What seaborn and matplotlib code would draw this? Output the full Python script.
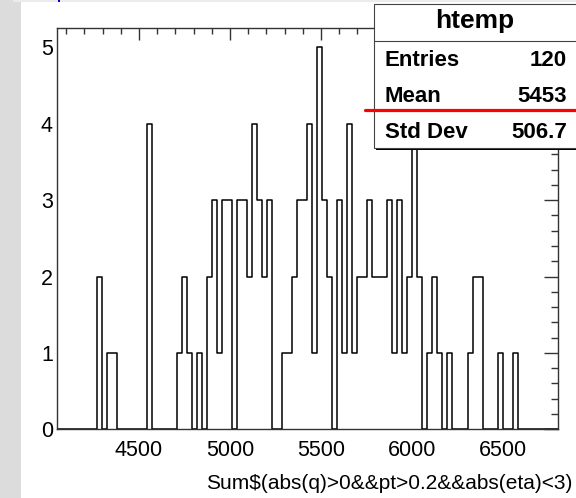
import numpy as np
import pandas as pd
import matplotlib
matplotlib.use("Agg")
import matplotlib.pyplot as plt
import seaborn as sns
from matplotlib.patches import Rectangle
from matplotlib.lines import Line2D
from matplotlib.ticker import MultipleLocator

# ---- data ----
x_min, x_max, n_bins = 4050.0, 6800.0, 100
counts = [0, 0, 0, 0, 0, 0, 0, 0, 2, 0,
          1, 1, 0, 0, 0, 0, 0, 0, 4, 0,
          0, 0, 0, 0, 1, 2, 1, 0, 1, 0,
          2, 3, 1, 3, 3, 0, 3, 3, 2, 4,
          3, 2, 3, 0, 0, 1, 1, 2, 3, 3,
          4, 1, 5, 3, 2, 0, 3, 1, 4, 1,
          2, 2, 3, 2, 2, 2, 3, 1, 3, 1,
          2, 4, 2, 0, 1, 2, 1, 0, 1, 0,
          0, 0, 1, 2, 2, 0, 0, 0, 1, 0,
          0, 1, 0, 0, 0, 0, 0, 0, 0, 0]
x_ticks = [4500, 5000, 5500, 6000, 6500]
y_ticks = [0, 1, 2, 3, 4, 5]
x_title = "Sum\\$(abs(q)>0&&pt>0.2&&abs(eta)<3)"
hist_name = "htemp"
stat_names = ["Entries", "Mean", "Std Dev"]
stat_values = ["120", "5453", "506.7"]

edges = np.linspace(x_min, x_max, n_bins + 1)
centers = 0.5 * (edges[:-1] + edges[1:])
df = pd.DataFrame({"x": centers, "w": counts})

# ---- style ----
sns.set_style("white")
plt.rcParams["font.family"] = ["Liberation Sans", "DejaVu Sans"]

W, H = 576, 498
fig = plt.figure(figsize=(W / 100, H / 100), dpi=100)
fig.patch.set_facecolor("white")

def fx(px):
    return px / W

def fy(py):
    return 1 - py / H

# canvas decorations
fig.patches.append(Rectangle((0, 0), fx(21), 1, transform=fig.transFigure,
                             facecolor="#dcdcdc", edgecolor="none", zorder=0))
fig.patches.append(Rectangle((fx(13), fy(2.5)), 1, 2.5 / H, transform=fig.transFigure,
                             facecolor="#ececec", edgecolor="none", zorder=0))
fig.patches.append(Rectangle((fx(58), fy(2.5)), 2 / W, 2.5 / H, transform=fig.transFigure,
                             facecolor="#0000cc", edgecolor="none", zorder=1))

L, R, T, B = 57.1, 557.6, 28.3, 429.3
ax = fig.add_axes([fx(L), fy(B), fx(R - L), (B - T) / H])
ax.set_facecolor("white")

sns.histplot(data=df, x="x", weights="w", bins=n_bins, binrange=(x_min, x_max),
             element="step", fill=False, color="black", linewidth=1.1, ax=ax)

ax.set_xlim(x_min, x_max)
ax.set_ylim(0, 5.25)
ax.set_xlabel("")
ax.set_ylabel("")
ax.set_xticks(x_ticks)
ax.set_yticks(y_ticks)
ax.xaxis.set_minor_locator(MultipleLocator(100))
ax.yaxis.set_minor_locator(MultipleLocator(0.2))
for s in ax.spines.values():
    s.set_visible(True)
    s.set_color("#333333")
    s.set_linewidth(1.0)

ax.tick_params(which="both", direction="in", top=True, right=True,
               color="#333333", width=1.0, labelsize=15.5, labelcolor="black")
ax.tick_params(axis="x", which="major", length=8.5, pad=7.5)
ax.tick_params(axis="x", which="minor", length=4.3)
ax.tick_params(axis="y", which="major", length=10, pad=3)
ax.tick_params(axis="y", which="minor", length=5)

# x axis title (right aligned, ROOT style)
fig.text(fx(572), fy(483), x_title, ha="right", va="center", fontsize=15,
         color="black")

# ---- stats box ----
bx0, bx1, by0, by1 = 374, 580, 4, 148
fig.patches.append(Rectangle((fx(bx0 + 2), fy(by1 + 2)), fx(bx1 - bx0), (by1 - by0) / H,
                             transform=fig.transFigure, facecolor="black",
                             edgecolor="none", zorder=5))
fig.patches.append(Rectangle((fx(bx0), fy(by1)), fx(bx1 - bx0), (by1 - by0) / H,
                             transform=fig.transFigure, facecolor="white",
                             edgecolor="#444444", linewidth=0.8, zorder=6))
fig.lines.append(Line2D([fx(bx0), fx(bx1)], [fy(41), fy(41)], transform=fig.transFigure,
                        color="#444444", linewidth=0.8, zorder=7))
fig.text(fx(475), fy(21), hist_name, ha="center", va="center", fontsize=19,
         fontweight="bold", color="black", zorder=8)
row_y = [60, 97, 132]
for name, val, yy in zip(stat_names, stat_values, row_y):
    fig.text(fx(385), fy(yy), name, ha="left", va="center", fontsize=16,
             fontweight="bold", color="black", zorder=8)
    fig.text(fx(567), fy(yy), val, ha="right", va="center", fontsize=16,
             fontweight="bold", color="black", zorder=8)

# red line
fig.lines.append(Line2D([fx(365), fx(576)], [fy(110), fy(110)], transform=fig.transFigure,
                        color="#ff0000", linewidth=2.3, zorder=9))

fig.savefig("out.png", dpi=100)
